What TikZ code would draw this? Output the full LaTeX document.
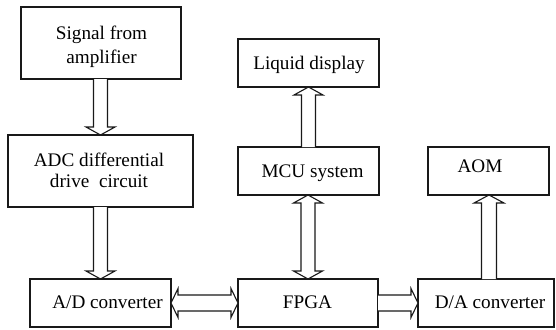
\documentclass[tikz,border=0pt]{standalone}
\usepackage{fontspec}
\setmainfont{Liberation Serif}
\usetikzlibrary{calc}
\tikzset{
  blk/.style={draw=black!90, line width=1.1pt, rectangle, inner sep=0pt, outer sep=0pt},
  lbl/.style={font=\fontsize{19.2}{24}\selectfont, align=center, inner sep=0pt, text=black},
  harr/.style={draw=black!90, line width=1.1pt, line join=miter, fill=white},
}
\begin{document}
\begin{tikzpicture}[x=1pt,y=-1pt]
\useasboundingbox (0,0) rectangle (556,329);
% boxes
\node[blk, minimum width=160pt, minimum height=72pt] (sig) at (101,43) {};
\node[blk, minimum width=185pt, minimum height=72pt] (adc) at (100.5,171) {};
\node[blk, minimum width=141pt, minimum height=48pt] (ad) at (100.5,303) {};
\node[blk, minimum width=140pt, minimum height=48pt] (fpga) at (308,303) {};
\node[blk, minimum width=136pt, minimum height=48pt] (da) at (486,303) {};
\node[blk, minimum width=141pt, minimum height=48pt] (mcu) at (308.5,171) {};
\node[blk, minimum width=141pt, minimum height=48pt] (lcd) at (308.5,63) {};
\node[blk, minimum width=121pt, minimum height=48pt] (aom) at (488.5,171) {};
% labels
\node[lbl] (tsig) at (101.5,46.6) {Signal from\\amplifier};
\node[lbl, font=\fontsize{19.2}{21}\selectfont] (tadc) at (99,170.1) {ADC differential\\drive~~circuit};
\node[lbl, anchor=base] (tad) at (107.5,308) {A/D converter};
\node[lbl, anchor=base] (tfpga) at (307.5,308) {FPGA};
\node[lbl, anchor=base] (tda) at (490,308) {D/A converter};
\node[lbl, anchor=base] (tmcu) at (312.5,177) {MCU system};
\node[lbl, anchor=base] (tlcd) at (309,69.8) {Liquid display};
\node[lbl, anchor=base] (taom) at (480,172.5) {AOM};
% hollow arrows
% signal -> adc (down)
\draw[harr] let \p1=(sig.south), \p2=(adc.north) in
  (\x2-7pt,\y1) -- (\x2-7pt,\y2+8pt) -- (\x2-14.5pt,\y2+8pt) -- (\x2,\y2)
  -- (\x2+14.5pt,\y2+8pt) -- (\x2+7pt,\y2+8pt) -- (\x2+7pt,\y1);
% adc -> ad (down)
\draw[harr] let \p1=(adc.south), \p2=(ad.north) in
  (\x2-7pt,\y1) -- (\x2-7pt,\y2+8pt) -- (\x2-14.5pt,\y2+8pt) -- (\x2,\y2)
  -- (\x2+14.5pt,\y2+8pt) -- (\x2+7pt,\y2+8pt) -- (\x2+7pt,\y1);
% mcu -> lcd (up)
\draw[harr] let \p1=(mcu.north), \p2=(lcd.south) in
  (\x2-7pt,\y1) -- (\x2-7pt,\y2-8pt) -- (\x2-14.5pt,\y2-8pt) -- (\x2,\y2)
  -- (\x2+14.5pt,\y2-8pt) -- (\x2+7pt,\y2-8pt) -- (\x2+7pt,\y1);
% da -> aom (up)
\draw[harr] let \p1=(da.north), \p2=(aom.south) in
  (\x2+0.5pt-7.5pt,\y1) -- (\x2+0.5pt-7.5pt,\y2-8pt) -- (\x2+0.5pt-15pt,\y2-8pt) -- (\x2+0.5pt,\y2)
  -- (\x2+0.5pt+15pt,\y2-8pt) -- (\x2+0.5pt+7.5pt,\y2-8pt) -- (\x2+0.5pt+7.5pt,\y1);
% mcu <-> fpga (double vertical)
\draw[harr] let \p1=(mcu.south), \p2=(fpga.north) in
  (\x2,\y1) -- (\x2+14.5pt,\y1-8pt) -- (\x2+7pt,\y1-8pt) -- (\x2+7pt,\y2+8pt)
  -- (\x2+14.5pt,\y2+8pt) -- (\x2,\y2) -- (\x2-14.5pt,\y2+8pt) -- (\x2-7pt,\y2+8pt)
  -- (\x2-7pt,\y1-8pt) -- (\x2-14.5pt,\y1-8pt) -- cycle;
% ad <-> fpga (double horizontal)
\draw[harr] let \p1=(ad.east), \p2=(fpga.west) in
  (\x1,\y1) -- (\x1+7pt,\y1+14.5pt) -- (\x1+7pt,\y1+8pt) -- (\x2-7pt,\y1+8pt)
  -- (\x2-7pt,\y1+14.5pt) -- (\x2,\y1) -- (\x2-7pt,\y1-14.5pt) -- (\x2-7pt,\y1-8pt)
  -- (\x1+7pt,\y1-8pt) -- (\x1+7pt,\y1-14.5pt) -- cycle;
% fpga -> da (horizontal)
\draw[harr] let \p1=(fpga.east), \p2=(da.west) in
  (\x1,\y1+8pt) -- (\x2-7pt,\y1+8pt) -- (\x2-7pt,\y1+14.5pt) -- (\x2,\y1)
  -- (\x2-7pt,\y1-14.5pt) -- (\x2-7pt,\y1-8pt) -- (\x1,\y1-8pt);
\end{tikzpicture}
\end{document}
